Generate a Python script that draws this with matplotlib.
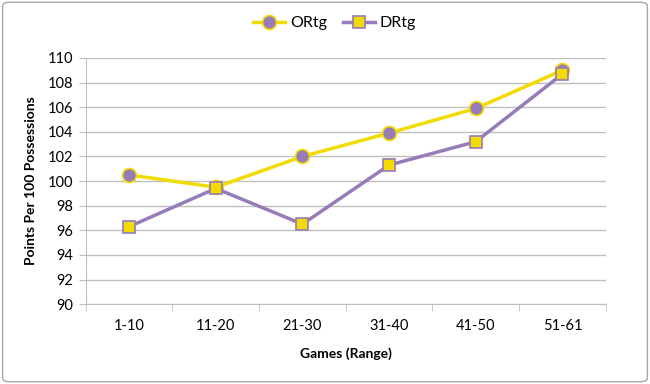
import matplotlib
matplotlib.use('Agg')
import matplotlib.pyplot as plt
from matplotlib.patches import FancyBboxPatch
import numpy as np

games = ["1-10", "11-20", "21-30", "31-40", "41-50", "51-61"]
ortg = [100.5, 99.5, 102.0, 103.9, 105.9, 109.0]
drtg = [96.3, 99.4, 96.5, 101.3, 103.2, 108.7]

yellow = "#F2DB00"
purple = "#967CB8"
grid_c = "#BFBFBF"

plt.rcParams['font.family'] = ['Lato', 'DejaVu Sans']

fig = plt.figure(figsize=(6.5, 3.84), dpi=100)
ax = fig.add_axes([0.132, 0.208, 0.8, 0.641])

x = np.arange(len(games))
ax.plot(x, ortg, color=yellow, lw=2.5, marker='o', ms=10,
        mfc=purple, mec=yellow, mew=1.2, label="ORtg", zorder=3)
ax.plot(x, drtg, color=purple, lw=2.5, marker='s', ms=9,
        mfc=yellow, mec=purple, mew=1.2, label="DRtg", zorder=4)

ax.set_xlim(-0.5, len(games) - 0.5)
ax.set_ylim(90, 110)
ax.set_yticks(np.arange(90, 111, 2))
ax.set_xticks(x)
ax.set_xticklabels(games)
ax.set_xticks(np.arange(-0.5, len(games), 1), minor=True)
ax.tick_params(axis='x', which='major', length=0, pad=11, labelsize=10.5)
ax.tick_params(axis='x', which='minor', length=5, color=grid_c, direction='out')
ax.tick_params(axis='y', length=5, color=grid_c, labelsize=10.5, pad=4)
ax.yaxis.grid(True, color=grid_c, lw=1)
ax.set_axisbelow(True)
for s in ['top', 'right']:
    ax.spines[s].set_visible(False)
for s in ['left', 'bottom']:
    ax.spines[s].set_color(grid_c)

ax.set_xlabel("Games (Range)", fontsize=10, fontweight='bold', labelpad=10)
ax.set_ylabel("Points Per 100 Possessions", fontsize=10, fontweight='bold', labelpad=8)

fig.legend(loc='upper center', bbox_to_anchor=(0.515, 0.995), ncol=2, frameon=False,
           fontsize=11.5, handlelength=2.0, columnspacing=1.0, handletextpad=0.3)

border = FancyBboxPatch((0.004, 0.006), 0.992, 0.988, boxstyle="round,pad=0,rounding_size=0.01",
                        transform=fig.transFigure, fill=False, ec="#A6A6A6", lw=1)
fig.patches.append(border)

fig.savefig("out.png", dpi=100)
